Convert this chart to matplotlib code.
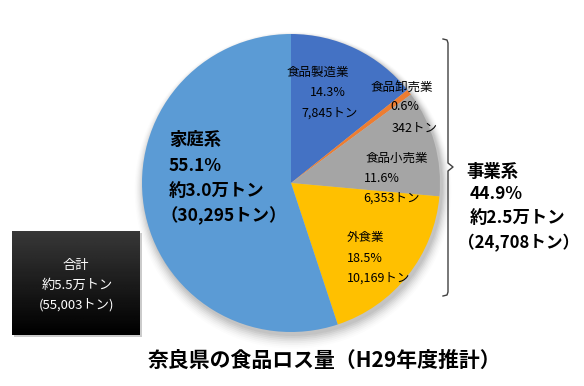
import numpy as np
import matplotlib
matplotlib.use("Agg")
import matplotlib.pyplot as plt
from matplotlib.patches import Circle

plt.rcParams['font.family'] = ['Noto Sans CJK JP', 'DejaVu Sans']

# data
categories = ['食品製造業', '食品卸売業', '食品小売業', '外食業', '家庭系']
tons = [7845, 342, 6353, 10169, 30295]
shares = ['14.3%', '0.6%', '11.6%', '18.5%', '55.1%']
colors = ['#4472C4', '#ED7D31', '#A5A5A5', '#FFC000', '#5B9BD5']
total_tons = 55003
business_tons = 24708
business_share = '44.9%'
title = '奈良県の食品ロス量（H29年度推計）'

W, H = 584, 386
fig = plt.figure(figsize=(W / 100, H / 100), dpi=100)
ax = fig.add_axes([0, 0, 1, 1])

def py(y):
    # pixel row from top -> data y
    return H - y

cx, cy, r = 291, py(183), 149

# soft shadow
for i, a in enumerate(np.linspace(0.05, 0.012, 8)):
    ax.add_patch(Circle((cx + 2, cy - 3 - i * 0.6), r + 1 + i * 1.2, color='black',
                        alpha=a, lw=0, zorder=0))

ax.pie(tons, colors=colors, startangle=90, counterclock=False, center=(cx, cy),
       radius=r, frame=True, wedgeprops=dict(linewidth=0))

fs = 9
def lbl(x, y, s, ha='center', **kw):
    ax.text(x, py(y), s, ha=ha, va='center', fontsize=kw.pop('size', fs), **kw)

# 食品製造業
lbl(318, 72, categories[0])
lbl(328, 93, shares[0])
lbl(330, 113, f'{tons[0]:,}トン')
# 食品卸売業
lbl(402, 88, categories[1])
lbl(405, 107, shares[1])
lbl(415, 128, f'{tons[1]:,}トン')
# 食品小売業
lbl(397, 158, categories[2])
lbl(382, 179, shares[2])
lbl(392, 198, f'{tons[2]:,}トン')
# 外食業
lbl(347, 238, categories[3], ha='left')
lbl(347, 258, shares[3], ha='left')
lbl(347, 278, f'{tons[3]:,}トン', ha='left')

# 家庭系
bfs = 12.5
lbl(169, 140, '家庭系', ha='left', size=bfs, fontweight='bold')
lbl(169, 166, shares[4], ha='left', size=bfs, fontweight='bold')
lbl(169, 191, f'約{tons[4] / 10000:.1f}万トン', ha='left', size=bfs, fontweight='bold')
lbl(160, 216, f'（{tons[4]:,}トン）', ha='left', size=bfs, fontweight='bold')

# 事業系
lbl(466, 172, '事業系', ha='left', size=bfs, fontweight='bold')
lbl(470, 194, business_share, ha='left', size=bfs, fontweight='bold')
lbl(470, 218, f'約{business_tons / 10000:.1f}万トン', ha='left', size=bfs, fontweight='bold')
lbl(458, 243, f'（{business_tons:,}トン）', ha='left', size=12, fontweight='bold')

# brace
bx = [443, 447, 448, 448, 453, 448, 448, 447, 443]
by = [39, 40, 43, 163, 167, 171, 292, 295, 296]
ax.plot(bx, [py(v) for v in by], color='#404040', lw=1.0)

# total box with gradient
x0, x1, y0, y1 = 12, 140, 231, 335
grad = np.linspace(0.22, 0.0, 64).reshape(-1, 1)
ax.add_patch(plt.Rectangle((x0 + 2, py(y1) - 2), x1 - x0, y1 - y0, color='#999999',
                           alpha=0.5, lw=0, zorder=1))
ax.imshow(grad, cmap='gray', vmin=0, vmax=1, extent=(x0, x1, py(y1), py(y0)),
          aspect='auto', zorder=2, interpolation='bilinear')
ax.text(76, py(265), '合計', ha='center', va='center', fontsize=9.5, color='white', zorder=3)
ax.text(77, py(285), f'約{total_tons / 10000:.1f}万トン', ha='center', va='center',
        fontsize=9.5, color='white', zorder=3)
ax.text(76, py(305), f'({total_tons:,}トン)', ha='center', va='center',
        fontsize=9.5, color='white', zorder=3)

# title
ax.text(325, py(360), title, ha='center', va='center', fontsize=15, fontweight='bold')

ax.set_xlim(0, W)
ax.set_ylim(0, H)
ax.set_aspect('auto')
ax.axis('off')

fig.savefig('out.png', dpi=100)
